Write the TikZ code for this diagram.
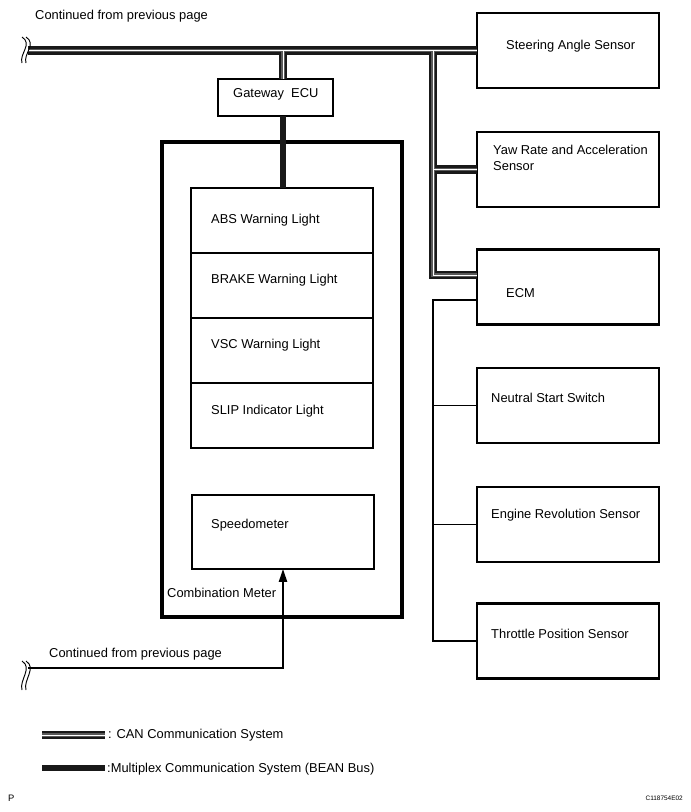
\documentclass[tikz,border=0pt]{standalone}
\usepackage{fontspec}
\setmainfont{Liberation Sans}
\usetikzlibrary{arrows.meta}
\tikzset{
  sensorbox/.style={draw,line width=1.8pt,inner sep=0pt,outer sep=0pt,minimum width=5.46cm,minimum height=2.25cm},
  lampcell/.style={draw,line width=1.3pt,inner sep=0pt,outer sep=0pt,minimum width=5.46cm,minimum height=1.95cm},
  txt/.style={anchor=base west,inner sep=0pt,font=\fontsize{11}{13.6}\selectfont},
  sig/.style={line width=1.3pt},
  bean/.style={line width=4.8pt,black!90},
  brk/.style={line width=0.8pt},
}
\begin{document}
\begin{tikzpicture}[x=0.03cm,y=-0.03cm]
\useasboundingbox (0,0) rectangle (690,812);
% sensors on the right
\node[sensorbox] (steer)    at (568,50.5)  {};
\node[sensorbox] (yaw)      at (568,169.5) {};
\node[sensorbox] (ecm)      at (568,287)   {};
\node[sensorbox] (neutral)  at (568,405.5) {};
\node[sensorbox] (engine)   at (568,524.5) {};
\node[sensorbox] (throttle) at (568,641)   {};
\node[txt] (steertxt)    at (506,49.5) {Steering Angle Sensor};
\node[txt,anchor=north west,align=left] (yawtxt) at (493,145) {Yaw Rate and Acceleration\\Sensor};
\node[txt] (ecmtxt)      at (506,297)  {ECM};
\node[txt] (neutraltxt)  at (491,402)  {Neutral Start Switch};
\node[txt] (enginetxt)   at (491,518)  {Engine Revolution Sensor};
\node[txt] (throttletxt) at (491,638)  {Throttle Position Sensor};
% gateway and combination meter
\node[draw,line width=1.6pt,inner sep=0pt,outer sep=0pt,minimum width=3.45cm,minimum height=1.11cm] (gw) at (275.5,97.5) {};
\node[txt] (gwtxt) at (233,97) {Gateway\ \ ECU};
\node[draw,line width=2.8pt,inner sep=0pt,outer sep=0pt,minimum width=7.2cm,minimum height=14.25cm] (meter) at (282,379.5) {};
\node[lampcell] (abs)   at (282,220.5) {};
\node[lampcell] (brake) at (282,285.5) {};
\node[lampcell] (vsc)   at (282,350.5) {};
\node[lampcell] (slip)  at (282,415.5) {};
\node[lampcell,minimum height=2.22cm] (speedo) at (283,532) {};
\node[txt] (abstxt)    at (211,223) {ABS Warning Light};
\node[txt] (braketxt)  at (211,283) {BRAKE Warning Light};
\node[txt] (vsctxt)    at (211,348) {VSC Warning Light};
\node[txt] (sliptxt)   at (211,414) {SLIP Indicator Light};
\node[txt] (speedotxt) at (211,528) {Speedometer};
\node[txt] (metertxt)  at (167,597) {Combination Meter};
% CAN bus
\coordinate (canL)   at (28,50.5);
\coordinate (canT)   at (433,50.5);
\coordinate (gwcan)  at (283,79);
\coordinate (ecmcan) at (477,275);
\coordinate (legcanL) at (42,735);
\coordinate (legcanR) at (105,735);
\foreach \lw/\col in {7.2pt/black!90,3pt/black!65,0.7pt/white}{
  \draw[line width=\lw,color=\col] (canL) -- (canL -| steer.west)
    (gwcan |- canL) -- (gwcan)
    (canT) |- (yaw.west)
    (canT) |- (ecmcan);
  \draw[line width=\lw,color=\col] (legcanL) -- (legcanR);
}
% BEAN bus
\coordinate (gwbean) at (283,116);
\draw[bean] (gwbean) -- (gwbean |- abs.north);
\coordinate (legbeanL) at (42,768);
\coordinate (legbeanR) at (105,768);
\draw[bean,line width=5.2pt] (legbeanL) -- (legbeanR);
% ECM signal lines
\coordinate (ecmsig) at (477,300);
\coordinate (sigx)   at (433,300);
\draw[sig] (ecmsig) -- (sigx) |- (throttle.west);
\draw[sig] (sigx |- neutral.west) -- (neutral.west);
\draw[sig] (sigx |- engine.west) -- (engine.west);
% speed signal
\coordinate (spdL) at (28,668);
\draw[sig,-{Triangle[length=11pt,width=7pt]}] (spdL) -| (speedo.south);
% break marks
\foreach \d in {0,4}{
  \draw[brk] (22+\d,37) .. controls (33+\d,44) and (19+\d,54) .. (22+\d,63);
  \draw[brk] (22+\d,661) .. controls (33+\d,668) and (19+\d,680) .. (22+\d,690);
}
% texts
\node[txt] (conttop) at (35,19.5) {Continued from previous page};
\node[txt] (contbot) at (49,657) {Continued from previous page};
\node[txt] (legcan)  at (108,738) {: CAN Communication System};
\node[txt] (legbean) at (107,772) {:Multiplex Communication System (BEAN Bus)};
\node[anchor=base west,inner sep=0pt,font=\fontsize{8}{9}\selectfont] (pmark) at (8,801) {P};
\node[anchor=base east,inner sep=0pt,font=\fontsize{5.5}{6}\selectfont] (figid) at (683,800) {C118754E02};
\end{tikzpicture}
\end{document}
